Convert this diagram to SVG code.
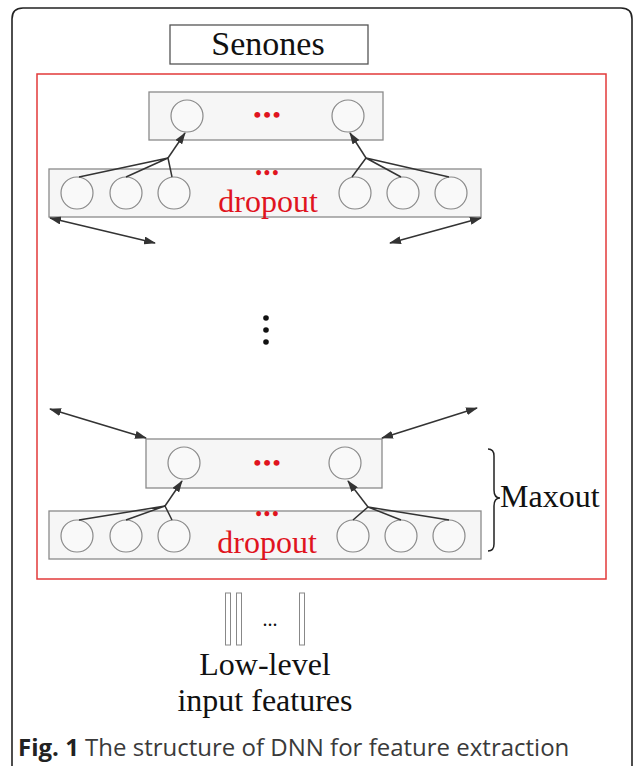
<svg xmlns="http://www.w3.org/2000/svg" width="636" height="766" viewBox="0 0 636 766">
  <defs>
    <style>
      .frame { fill: none; stroke: #222; stroke-width: 1.6; }
      .net { fill: none; stroke: #e23a3a; stroke-width: 1.5; }
      .layer { fill: #f6f6f6; stroke: #8a8a8a; stroke-width: 1.3; }
      .unit { fill: #f9f9f9; stroke: #8a8a8a; stroke-width: 1.2; }
      .edge { fill: none; stroke: #333; stroke-width: 1.5; }
      .serif { font-family: "Liberation Serif", "Times New Roman", serif; }
      .red { fill: #e0141e; }
      .dots { font-weight: bold; letter-spacing: 2px; }
      .bar { fill: #fff; stroke: #888; stroke-width: 1; }
    </style>
    <marker id="ah" viewBox="0 0 12 8" refX="11" refY="4" markerWidth="12" markerHeight="8" markerUnits="userSpaceOnUse" orient="auto-start-reverse">
      <path d="M0,0 L12,4 L0,8 Z" fill="#333"/>
    </marker>
  </defs>

  <rect width="636" height="766" fill="#fff"/>
  <!-- figure panel -->
  <path class="frame" d="M12,780 L12,19 Q12,8 23,8 L621,8 Q632,8 632,19 L632,780"/>

  <!-- output label -->
  <g id="senones">
    <rect x="170" y="25" width="198" height="39" fill="#fff" stroke="#555" stroke-width="1.3"/>
    <text class="serif" x="268" y="55" font-size="34" text-anchor="middle" fill="#111">Senones</text>
  </g>

  <!-- network boundary -->
  <rect id="network" class="net" x="37" y="74" width="569" height="505"/>

  <!-- top maxout layer -->
  <g id="top-maxout">
    <rect class="layer" x="149" y="92" width="234" height="48"/>
    <circle class="unit" cx="187" cy="116" r="16"/>
    <circle class="unit" cx="348" cy="116" r="16"/>
    <text class="serif red dots" x="268" y="122" font-size="22" text-anchor="middle">•••</text>
  </g>

  <!-- top dropout layer -->
  <g id="top-dropout">
    <rect class="layer" x="49" y="169" width="432" height="48"/>
    <circle class="unit" cx="77" cy="193" r="16"/>
    <circle class="unit" cx="126" cy="193" r="16"/>
    <circle class="unit" cx="174" cy="193" r="16"/>
    <circle class="unit" cx="355" cy="193" r="16"/>
    <circle class="unit" cx="403" cy="193" r="16"/>
    <circle class="unit" cx="451" cy="193" r="16"/>
    <text class="serif red dots" x="268" y="179" font-size="18" text-anchor="middle">•••</text>
    <text class="serif red" x="268" y="212" font-size="32" text-anchor="middle">dropout</text>
  </g>

  <!-- bottom maxout layer -->
  <g id="bottom-maxout">
    <rect class="layer" x="146" y="439" width="236" height="49"/>
    <circle class="unit" cx="184" cy="463" r="16"/>
    <circle class="unit" cx="345" cy="463" r="16"/>
    <text class="serif red dots" x="268" y="470" font-size="22" text-anchor="middle">•••</text>
  </g>

  <!-- bottom dropout layer -->
  <g id="bottom-dropout">
    <rect class="layer" x="49" y="511" width="432" height="48"/>
    <circle class="unit" cx="77" cy="536" r="16"/>
    <circle class="unit" cx="126" cy="536" r="16"/>
    <circle class="unit" cx="174" cy="536" r="16"/>
    <circle class="unit" cx="353" cy="536" r="16"/>
    <circle class="unit" cx="401" cy="536" r="16"/>
    <circle class="unit" cx="449" cy="536" r="16"/>
    <text class="serif red dots" x="268" y="520" font-size="18" text-anchor="middle">•••</text>
    <text class="serif red" x="267" y="553" font-size="32" text-anchor="middle">dropout</text>
  </g>

  <!-- vertical ellipsis between blocks -->
  <g id="ellipsis" fill="#111">
    <circle cx="266" cy="318" r="2.8"/>
    <circle cx="266" cy="330" r="2.8"/>
    <circle cx="266" cy="342" r="2.8"/>
  </g>

  <!-- maxout brace and label -->
  <g id="maxout">
    <path d="M488,449 Q494,449 494,456 L494,490 Q494,498 500,498 Q494,498 494,506 L494,544 Q494,551 488,551" fill="none" stroke="#222" stroke-width="1.5"/>
    <text class="serif" x="500" y="507" font-size="32" fill="#111">Maxout</text>
  </g>

  <!-- input features -->
  <g id="inputs">
    <rect class="bar" x="225.5" y="593" width="5" height="52"/>
    <rect class="bar" x="236.5" y="593" width="5" height="52"/>
    <rect class="bar" x="299.5" y="593" width="5" height="52"/>
    <text class="serif" x="270" y="626" font-size="20" text-anchor="middle" fill="#111">...</text>
    <text class="serif" x="265" y="675" font-size="32" text-anchor="middle" fill="#111">Low-level</text>
    <text class="serif" x="265" y="711" font-size="32" text-anchor="middle" fill="#111">input features</text>
  </g>

  <!-- connectors -->
  <g id="connectors" class="edge">
    <!-- top block: pooling groups -->
    <path d="M79,177 L168,158 M126,177 L168,158 M172,177 L168,158"/>
    <path d="M168,158 L185,133" marker-end="url(#ah)"/>
    <path d="M352,177 L366,158 M401,177 L366,158 M449,177 L366,158"/>
    <path d="M366,158 L350,133" marker-end="url(#ah)"/>
    <!-- top block: links to hidden stack -->
    <path d="M50,218 L155,243" marker-start="url(#ah)" marker-end="url(#ah)"/>
    <path d="M481,218 L390,243" marker-start="url(#ah)" marker-end="url(#ah)"/>
    <!-- bottom block: links to hidden stack -->
    <path d="M50,409 L146,438" marker-start="url(#ah)" marker-end="url(#ah)"/>
    <path d="M477,408 L382,438" marker-start="url(#ah)" marker-end="url(#ah)"/>
    <!-- bottom block: pooling groups -->
    <path d="M79,520 L165,506 M126,520 L165,506 M172,520 L165,506"/>
    <path d="M165,506 L182,481" marker-end="url(#ah)"/>
    <path d="M353,520 L368,507 M401,520 L368,507 M449,520 L368,507"/>
    <path d="M368,507 L348,481" marker-end="url(#ah)"/>
  </g>

  <!-- caption -->
  <text x="18" y="756" font-family="'Open Sans', 'Noto Sans', sans-serif" font-size="24" fill="#3a3a3a"><tspan font-weight="bold" fill="#222">Fig. 1</tspan> The structure of DNN for feature extraction</text>
</svg>
